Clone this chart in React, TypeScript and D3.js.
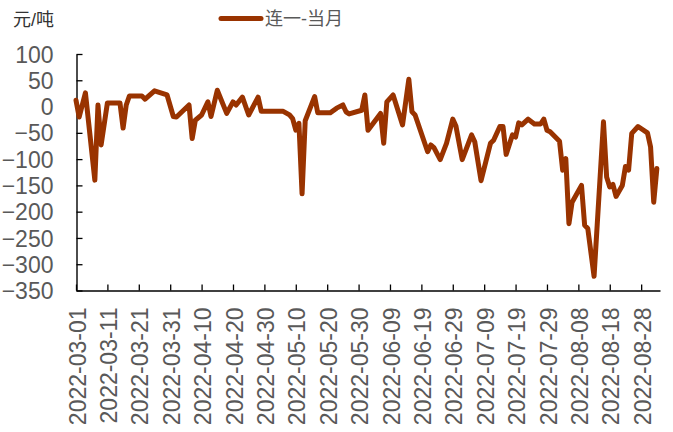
import React, { useRef, useEffect } from 'react';
import * as d3 from 'd3';

const seriesName = '连一-当月';
const unitLabel = '元/吨';

const dates = [
  '2022-03-01', '2022-03-02', '2022-03-04', '2022-03-07', '2022-03-08', '2022-03-09', '2022-03-11',
  '2022-03-15', '2022-03-16', '2022-03-17', '2022-03-18', '2022-03-22', '2022-03-23', '2022-03-26',
  '2022-03-30', '2022-04-01', '2022-04-02', '2022-04-06', '2022-04-07', '2022-04-08', '2022-04-10',
  '2022-04-12', '2022-04-13', '2022-04-15', '2022-04-18', '2022-04-20', '2022-04-21', '2022-04-23',
  '2022-04-25', '2022-04-28', '2022-04-29', '2022-05-06', '2022-05-08', '2022-05-09', '2022-05-10',
  '2022-05-11', '2022-05-12', '2022-05-13', '2022-05-16', '2022-05-17', '2022-05-21', '2022-05-23',
  '2022-05-25', '2022-05-26', '2022-05-27', '2022-05-31', '2022-06-01', '2022-06-02', '2022-06-06',
  '2022-06-07', '2022-06-08', '2022-06-10', '2022-06-13', '2022-06-15', '2022-06-16', '2022-06-17',
  '2022-06-21', '2022-06-22', '2022-06-23', '2022-06-25', '2022-06-27', '2022-06-29', '2022-06-30',
  '2022-07-02', '2022-07-05', '2022-07-06', '2022-07-08', '2022-07-11', '2022-07-12', '2022-07-14',
  '2022-07-15', '2022-07-16', '2022-07-18', '2022-07-19', '2022-07-20', '2022-07-21', '2022-07-23',
  '2022-07-25', '2022-07-27', '2022-07-28', '2022-07-29', '2022-07-30', '2022-08-02', '2022-08-03',
  '2022-08-04', '2022-08-05', '2022-08-06', '2022-08-09', '2022-08-10', '2022-08-11', '2022-08-13',
  '2022-08-16', '2022-08-17', '2022-08-18', '2022-08-19', '2022-08-20', '2022-08-22', '2022-08-23',
  '2022-08-24', '2022-08-25', '2022-08-27', '2022-08-30', '2022-08-31', '2022-09-01', '2022-09-02',
];

const values = [
  12, -20, 26, -140, 3, -73, 7,
  7, -41, 3, 20, 20, 14, 30,
  22, -19, -20, 3, -61, -26, -16,
  9, -19, 31, -13, 9, 3, 18,
  -16, 18, -9, -9, -16, -23, -45,
  -32, -166, -27, 19, -12, -12, -3,
  3, -10, -14, -7, 22, -45, -13,
  -70, 9, 22, -35, 52, -10, -16,
  -86, -73, -78, -101, -70, -24, -37,
  -101, -54, -67, -141, -70, -64, -38,
  -38, -91, -54, -58, -31, -35, -24,
  -33, -33, -24, -45, -48, -66, -121,
  -99, -223, -182, -150, -226, -232, -323,
  -29, -134, -153, -148, -171, -150, -114,
  -121, -51, -38, -50, -77, -182, -118,
];

const xTickLabels = [
  '2022-03-01', '2022-03-11', '2022-03-21', '2022-03-31', '2022-04-10', '2022-04-20', '2022-04-30',
  '2022-05-10', '2022-05-20', '2022-05-30', '2022-06-09', '2022-06-19', '2022-06-29', '2022-07-09',
  '2022-07-19', '2022-07-29', '2022-08-08', '2022-08-18', '2022-08-28',
];

const yTicks = [100, 50, 0, -50, -100, -150, -200, -250, -300, -350];

const FONT = '"Liberation Sans", Arial, "Noto Sans CJK SC", sans-serif';
const LINE_COLOR = '#993300';
const TEXT_COLOR = '#595959';

export default function App() {
  const ref = useRef<SVGSVGElement | null>(null);

  useEffect(() => {
    if (!ref.current) return;
    const svg = d3.select(ref.current);
    svg.selectAll('*').remove();

    const parse = d3.timeParse('%Y-%m-%d');
    const pts = dates.map((d, i) => ({ date: parse(d) as Date, value: values[i] }));

    const x = d3.scaleTime()
      .domain([pts[0].date, d3.timeDay.offset(pts[pts.length - 1].date, 1)])
      .range([76, 660]);

    const y = d3.scaleLinear()
      .domain([-350, 100])
      .range([290.5, 54]);

    // x axis, ticks pointing inward
    const xAxis = d3.axisBottom(x)
      .tickValues(xTickLabels.map(d => parse(d) as Date))
      .tickSizeInner(-6)
      .tickSizeOuter(0)
      .tickFormat(d3.timeFormat('%Y-%m-%d') as any);

    const gx = svg.append('g')
      .attr('transform', 'translate(0,290.5)')
      .call(xAxis);
    gx.select('.domain').attr('stroke', '#000').attr('stroke-width', 1.4);
    gx.selectAll('.tick line').attr('stroke', '#000').attr('stroke-width', 1.3);
    gx.selectAll('.tick text')
      .attr('transform', 'rotate(-90)')
      .attr('x', -17)
      .attr('y', 1)
      .attr('dy', '0.35em')
      .attr('text-anchor', 'end')
      .attr('fill', TEXT_COLOR)
      .style('font-size', '23px')
      .style('font-family', FONT);

    const yAxis = d3.axisLeft(y)
      .tickValues(yTicks)
      .tickSizeInner(-6)
      .tickSizeOuter(0);

    const gy = svg.append('g')
      .attr('transform', 'translate(76.5,0)')
      .call(yAxis);
    gy.select('.domain').attr('stroke', '#000').attr('stroke-width', 1.4);
    gy.selectAll('.tick line').attr('stroke', '#000').attr('stroke-width', 1.3);
    gy.selectAll('.tick text')
      .attr('x', -23)
      .attr('dy', '0.35em')
      .attr('fill', TEXT_COLOR)
      .style('font-size', '23px')
      .style('font-family', FONT);

    const line = d3.line<{ date: Date; value: number }>()
      .x(d => x(d.date))
      .y(d => y(d.value));

    svg.append('path')
      .datum(pts)
      .attr('d', line)
      .attr('fill', 'none')
      .attr('stroke', LINE_COLOR)
      .attr('stroke-width', 5)
      .attr('stroke-linejoin', 'round')
      .attr('stroke-linecap', 'round');

    // unit label
    svg.append('text')
      .text(unitLabel)
      .attr('x', 13)
      .attr('y', 20)
      .attr('dy', '0.35em')
      .attr('fill', '#333')
      .style('font-size', '18px')
      .style('font-family', FONT);

    // legend
    svg.append('line')
      .attr('x1', 221).attr('x2', 261)
      .attr('y1', 18.5).attr('y2', 18.5)
      .attr('stroke', LINE_COLOR)
      .attr('stroke-width', 5)
      .attr('stroke-linecap', 'round');
    svg.append('text')
      .text(seriesName)
      .attr('x', 265)
      .attr('y', 19)
      .attr('dy', '0.35em')
      .attr('fill', TEXT_COLOR)
      .style('font-size', '18px')
      .style('font-family', FONT);
  }, []);

  return (
    <svg
      ref={ref}
      width={673}
      height={432}
      style={{ position: 'absolute', left: 0, top: 0, background: '#fff' }}
    />
  );
}
